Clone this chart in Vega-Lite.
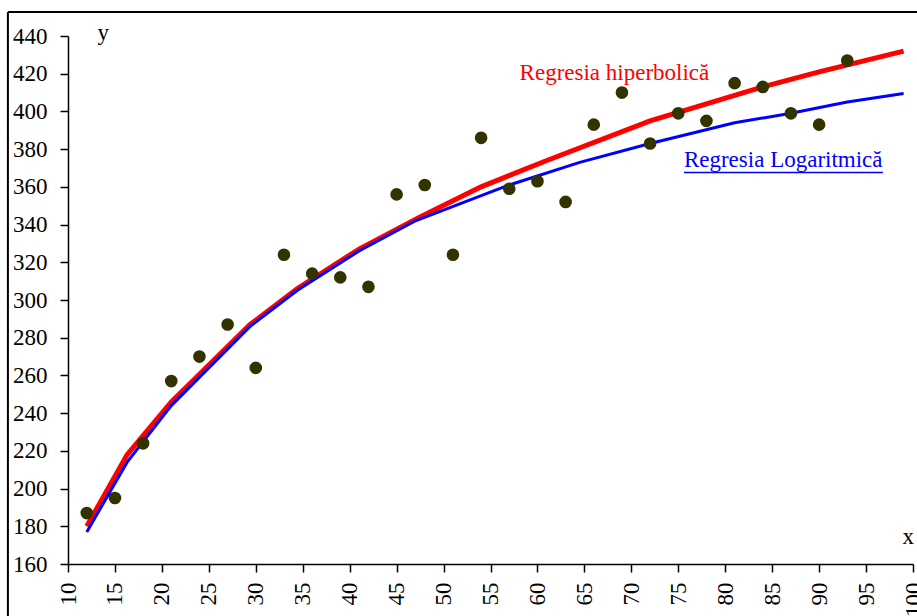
{
  "$schema": "https://vega.github.io/schema/vega-lite/v6.json",
  "width": 845,
  "height": 528,
  "autosize": {"type": "none"},
  "padding": {"left": 68, "top": 36, "right": 4, "bottom": 52},
  "background": "white",
  "config": {
    "view": {"stroke": null},
    "font": "Liberation Serif",
    "axis": {
      "labelFont": "Liberation Serif",
      "titleFont": "Liberation Serif",
      "labelFontSize": 23,
      "titleFontSize": 23,
      "labelColor": "black",
      "titleColor": "black",
      "domainColor": "black",
      "tickColor": "black",
      "domainWidth": 1.5,
      "tickWidth": 1.5,
      "tickSize": 8,
      "grid": false,
      "titleFontWeight": "normal",
      "labelOverlap": false
    }
  },
  "datasets": {
    "points": [
      {"x": 12, "y": 187}, {"x": 15, "y": 195}, {"x": 18, "y": 224}, {"x": 21, "y": 257},
      {"x": 24, "y": 270}, {"x": 27, "y": 287}, {"x": 30, "y": 264}, {"x": 33, "y": 324},
      {"x": 36, "y": 314}, {"x": 39, "y": 312}, {"x": 42, "y": 307}, {"x": 45, "y": 356},
      {"x": 48, "y": 361}, {"x": 51, "y": 324}, {"x": 54, "y": 386}, {"x": 57, "y": 359},
      {"x": 60, "y": 363}, {"x": 63, "y": 352}, {"x": 66, "y": 393}, {"x": 69, "y": 410},
      {"x": 72, "y": 383}, {"x": 75, "y": 399}, {"x": 78, "y": 395}, {"x": 81, "y": 415},
      {"x": 84, "y": 413}, {"x": 87, "y": 399}, {"x": 90, "y": 393}, {"x": 93, "y": 427}
    ],
    "hyper": [
      {"x": 12, "y": 180}, {"x": 16.3, "y": 218}, {"x": 21, "y": 246}, {"x": 29.4, "y": 287},
      {"x": 34.4, "y": 306}, {"x": 41, "y": 327}, {"x": 47.5, "y": 344}, {"x": 54, "y": 360},
      {"x": 61, "y": 374}, {"x": 72, "y": 395}, {"x": 84, "y": 413}, {"x": 90, "y": 421},
      {"x": 99, "y": 432}
    ],
    "logr": [
      {"x": 12, "y": 177}, {"x": 16.3, "y": 214}, {"x": 21, "y": 244}, {"x": 29.4, "y": 286},
      {"x": 34.4, "y": 305}, {"x": 41, "y": 326}, {"x": 47, "y": 342}, {"x": 57, "y": 361},
      {"x": 64.5, "y": 373}, {"x": 72, "y": 383}, {"x": 81, "y": 394}, {"x": 87, "y": 399},
      {"x": 93, "y": 405}, {"x": 99, "y": 409.5}
    ],
    "frame": [
      {"x": 3.6, "y": 120, "x2": 3.6, "y2": 452.7},
      {"x": 3.6, "y": 452.7, "x2": 101, "y2": 452.7}
    ]
  },
  "encoding": {
    "x": {
      "field": "x", "type": "quantitative",
      "scale": {"domain": [10, 100], "nice": false, "zero": false},
      "axis": {
        "values": [10, 15, 20, 25, 30, 35, 40, 45, 50, 55, 60, 65, 70, 75, 80, 85, 90, 95, 100],
        "labelAngle": 270, "labelPadding": 10, "labelOverlap": false, "labelBound": false, "labelFlush": false,
        "title": "x", "titleAngle": 0, "titleAlign": "left", "titleBaseline": "alphabetic",
        "titleX": 834, "titleY": -21
      }
    },
    "y": {
      "field": "y", "type": "quantitative",
      "scale": {"domain": [160, 440], "nice": false, "zero": false},
      "axis": {
        "values": [160, 180, 200, 220, 240, 260, 280, 300, 320, 340, 360, 380, 400, 420, 440],
        "tickCount": 15,
        "labelPadding": 13, "labelOverlap": false, "labelFlush": false, "labelBound": false,
        "title": "y", "titleAngle": 0, "titleAlign": "left", "titleBaseline": "alphabetic",
        "titleX": 29, "titleY": 3
      }
    }
  },
  "layer": [
    {
      "data": {"name": "frame"},
      "mark": {"type": "rule", "color": "black", "strokeWidth": 2, "clip": false},
      "encoding": {
        "x2": {"field": "x2"},
        "y2": {"field": "y2"}
      }
    },
    {
      "data": {"name": "hyper"},
      "mark": {"type": "line", "color": "#FF0000", "strokeWidth": 5}
    },
    {
      "data": {"name": "logr"},
      "mark": {"type": "line", "color": "#0000FF", "strokeWidth": 3}
    },
    {
      "data": {"name": "points"},
      "mark": {"type": "point", "filled": true, "shape": "circle", "color": "#333300", "opacity": 1, "size": 160}
    },
    {
      "data": {"values": [{"x": 58.1, "y": 420.4, "label": "Regresia hiperbolică"}]},
      "mark": {"type": "text", "color": "#FF0000", "fontSize": 23, "font": "Liberation Serif", "align": "left", "baseline": "middle"},
      "encoding": {"text": {"field": "label"}}
    },
    {
      "data": {"values": [{"x": 75.6, "y": 374.3, "label": "Regresia Logaritmică"}]},
      "mark": {"type": "text", "color": "#0000FF", "fontSize": 23, "font": "Liberation Serif", "align": "left", "baseline": "middle"},
      "encoding": {"text": {"field": "label"}}
    },
    {
      "data": {"values": [{"x": 75.6, "x2": 96.8, "y": 367.6}]},
      "mark": {"type": "rule", "color": "#0000FF", "strokeWidth": 1.5},
      "encoding": {"x2": {"field": "x2"}}
    }
  ]
}
